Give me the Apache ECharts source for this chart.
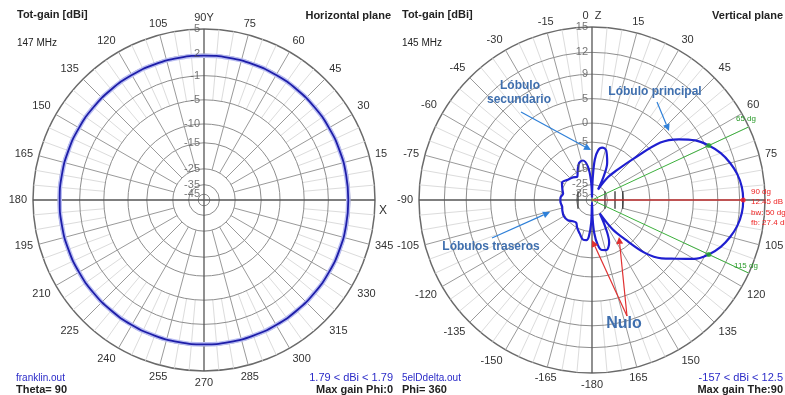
<!DOCTYPE html>
<html><head><meta charset="utf-8">
<script src="https://cdn.jsdelivr.net/npm/echarts@6/dist/echarts.min.js"></script>
<style>html,body{margin:0;padding:0;background:#fff}#c{width:785px;height:395px}</style>
</head><body><div id="c"></div>
<script>
// ---------- DATA ----------
// Horizontal plane (left), angle counter-clockwise from X axis, gain in dBi
const hAngles = [0,10,20,30,40,50,60,70,80,90,100,110,120,130,140,150,160,170,180,190,200,210,220,230,240,250,260,270,280,290,300,310,320,330,340,350,360];
const hGain   = [1.79,1.79,1.79,1.79,1.79,1.79,1.79,1.79,1.79,1.79,1.79,1.79,1.79,1.79,1.79,1.79,1.79,1.79,1.79,1.79,1.79,1.79,1.79,1.79,1.79,1.79,1.79,1.79,1.79,1.79,1.79,1.79,1.79,1.79,1.79,1.79,1.79];
const hOuter = 5;
const hRings = [2,-1,-5,-10,-15,-25,-35,-45];

// Vertical plane (right), angle clockwise from Z axis (0..360, 270 = -90), gain in dBi
const vAngles = [0,2,4,7,11,16,22,26,30,35,40,45,50,55,60,65,70,75,80,85,90,95,100,105,110,115,120,125,130,135,140,145,150,154,158,164,169,173,176,178,180,182,185,188,193,200,208,215,222,230,240,250,258,265,270,275,282,290,300,310,320,328,335,341,347,353,357,360];
const vGain   = [-40,-20,-11,-7.5,-6.4,-7,-11,-17,-28,-17,-11.5,-5,2.7,5.8,8.0,9.45,10.6,11.4,12.0,12.35,12.45,12.35,12.0,11.4,10.6,9.45,7.8,5.2,3.0,-0.5,-7,-13,-25,-15,-9,-6.8,-7.2,-9.5,-14,-22,-40,-20,-12.5,-11,-11,-13,-15,-17,-16.5,-15,-14.5,-15,-15.5,-15,-14.95,-15,-16,-15,-13.5,-15,-16,-17,-14,-11.5,-11,-14,-22,-40];
const vOuter = 15;
const vRings = [12,9,5,0,-5,-15,-25,-35];
const vMaxAngle = 90, vMaxGain = 12.45;
const vBwAngles = [65,115], vBwGain = 9.45;
const vBackAngle = 270;
// antenna elements sketch (offset along boom, relative units of the plot radius)
const vElements = [-0.081, 0.075, 0.133, 0.178];

// ---------- SCALE (log-like radial scale, 0..1) ----------
function rad(db, outer){ const e = Math.exp(-(outer-db)/20); return Math.max(0,(e-0.05)/0.95); }

const chart = echarts.init(document.getElementById('c'));
const FONT = '"Liberation Sans", Arial, sans-serif';

function ringSeries(pi, rings, outer){
  return {type:'custom', coordinateSystem:'polar', polarIndex:pi, silent:true, z:1,
    data: rings.map(v=>[rad(v,outer),0]),
    renderItem(params, api){
      const c = api.coord([0,0]); const p = api.coord([api.value(0),0]);
      return {type:'circle', shape:{cx:c[0],cy:c[1],r:Math.hypot(p[0]-c[0],p[1]-c[1])},
        style:{fill:null, stroke:'#8e8e8e', lineWidth:1}};
    }};
}
function spokeSeries(pi, list, color, width, z){
  return {type:'custom', coordinateSystem:'polar', polarIndex:pi, silent:true, z:z,
    data: list,
    renderItem(params, api){
      const a = api.value(1);
      const p0 = api.coord([api.value(0),a]); const p1 = api.coord([api.value(2),a]);
      return {type:'line', shape:{x1:p0[0],y1:p0[1],x2:p1[0],y2:p1[1]},
        style:{stroke:color, lineWidth:width}};
    }};
}
function spokes(outer){
  const minor=[], major=[], cross=[];
  for(let a=0;a<360;a+=5){
    if(a%90===0) cross.push([0,a,1]);
    else if(a%15===0) major.push([rad(outer-30,outer),a,1]);
    else minor.push([rad(outer-10,outer),a,1]);
  }
  return {minor, major, cross};
}
function ringLabels(pi, rings, outer, ang){
  return {type:'scatter', coordinateSystem:'polar', polarIndex:pi, silent:true, z:6,
    symbolSize:0,
    data:[[1,ang,outer]].concat(rings.map(v=>[rad(v,outer),ang,v])),
    label:{show:true, position:'left', distance:4, formatter:p=>String(p.value[2]),
      color:'#555', fontSize:11, fontFamily:FONT}};
}
const hs = spokes(hOuter), vs = spokes(vOuter);

const angleCommon = {type:'value', min:0, max:360, interval:15,
  axisLine:{lineStyle:{color:'#6a6a6a', width:1.5}}, axisTick:{show:false},
  splitLine:{show:false}};

function arrow(x1,y1,x2,y2,color,w){
  const ang = Math.atan2(y2-y1,x2-x1), L=7, W=3.5;
  const bx = x2 - L*Math.cos(ang), by = y2 - L*Math.sin(ang);
  const nx = -Math.sin(ang), ny = Math.cos(ang);
  return [
    {type:'line', shape:{x1,y1,x2:bx,y2:by}, style:{stroke:color, lineWidth:w}, z:20},
    {type:'polygon', shape:{points:[[x2,y2],[bx+nx*W,by+ny*W],[bx-nx*W,by-ny*W]]}, style:{fill:color}, z:20}
  ];
}
function txt(x,y,text,opt){
  return Object.assign({type:'text', x, y, z:20, style:Object.assign({text, font:'11px '+FONT, fill:'#222', textAlign:'left', textVerticalAlign:'middle'}, opt||{})});
}
const blueNote = '#3f6fae';
const bw = vBwAngles[1]-vBwAngles[0];
const fb = (vMaxGain - vGain[vAngles.indexOf(vBackAngle)]).toFixed(1);

const graphic = [
  txt(17,15,'Tot-gain [dBi]',{font:'bold 11px '+FONT}),
  txt(17,43,'147 MHz',{font:'10px '+FONT}),
  txt(391,16,'Horizontal plane',{font:'bold 11px '+FONT, textAlign:'right'}),
  txt(402,15,'Tot-gain [dBi]',{font:'bold 11px '+FONT}),
  txt(402,43,'145 MHz',{font:'10px '+FONT}),
  txt(783,16,'Vertical plane',{font:'bold 11px '+FONT, textAlign:'right'}),
  txt(16,378,'franklin.out',{font:'10px '+FONT, fill:'#2b2bc8'}),
  txt(16,390,'Theta= 90',{font:'bold 11px '+FONT}),
  txt(393,378,'1.79 < dBi < 1.79',{font:'11px '+FONT, fill:'#2b2bc8', textAlign:'right'}),
  txt(393,390,'Max gain Phi:0',{font:'bold 11px '+FONT, textAlign:'right'}),
  txt(402,378,'5elDdelta.out',{font:'10px '+FONT, fill:'#2b2bc8'}),
  txt(402,390,'Phi= 360',{font:'bold 11px '+FONT}),
  txt(783,378,'-157 < dBi < 12.5',{font:'11px '+FONT, fill:'#2b2bc8', textAlign:'right'}),
  txt(783,390,'Max gain The:90',{font:'bold 11px '+FONT, textAlign:'right'}),
  txt(383,211,'X',{font:'12px '+FONT, fill:'#333', textAlign:'center'}),
  // red info block
  txt(751,192,vMaxAngle+' dg',{font:'8px '+FONT, fill:'#ee2222'}),
  txt(751,202,vMaxGain+' dB',{font:'8px '+FONT, fill:'#ee2222'}),
  txt(751,213,'bw: '+bw+' dg',{font:'8px '+FONT, fill:'#ee2222'}),
  txt(751,223,'fb: '+fb+' dB',{font:'8px '+FONT, fill:'#ee2222'}),
  txt(746,119,vBwAngles[0]+' dg',{font:'8px '+FONT, fill:'#2a9a2a', textAlign:'center'}),
  txt(746,266,vBwAngles[1]+' dg',{font:'8px '+FONT, fill:'#2a9a2a', textAlign:'center'}),
  // notes
  txt(520,86,'Lóbulo',{font:'bold 12px '+FONT, fill:blueNote, textAlign:'center'}),
  txt(519,100,'secundario',{font:'bold 12px '+FONT, fill:blueNote, textAlign:'center'}),
  txt(655,92,'Lóbulo principal',{font:'bold 12px '+FONT, fill:blueNote, textAlign:'center'}),
  txt(491,247,'Lóbulos traseros',{font:'bold 12px '+FONT, fill:blueNote, textAlign:'center'}),
  txt(624,324,'Nulo',{font:'bold 16px '+FONT, fill:blueNote, textAlign:'center'}),
  ...arrow(521,112,591,150,'#2f80d8',1.2),
  ...arrow(657,102,669,131,'#2f80d8',1.2),
  ...arrow(492,238,550,212,'#2f80d8',1.2),
  ...arrow(627,316,592,240,'#e03030',1.2),
  ...arrow(627,316,619,237,'#e03030',1.2)
];

const option = {
  animation:false,
  backgroundColor:'#fff',
  polar:[{center:[204,200], radius:171},{center:[592,200], radius:173}],
  angleAxis:[
    Object.assign({polarIndex:0, startAngle:0, clockwise:false,
      axisLabel:{margin:6, color:'#333', fontSize:11, fontFamily:FONT,
        formatter:v=> v===360||v===0 ? '' : (v===90 ? '90Y' : String(v))}}, angleCommon),
    Object.assign({polarIndex:1, startAngle:90, clockwise:true,
      axisLabel:{margin:6, color:'#333', fontSize:11, fontFamily:FONT,
        formatter:v=> v===360||v===90 ? '' : (v===0 ? '0  Z' : (v>=180 ? String(v-360) : String(v)))}}, angleCommon)
  ],
  radiusAxis:[0,1].map(i=>({polarIndex:i, type:'value', min:0, max:1,
    axisLine:{show:false}, axisTick:{show:false}, axisLabel:{show:false}, splitLine:{show:false}})),
  series:[
    spokeSeries(0, hs.minor, '#dcdcdc', 1, 1),
    spokeSeries(0, hs.major, '#9a9a9a', 1, 2),
    ringSeries(0, hRings, hOuter),
    spokeSeries(0, hs.cross, '#555', 1.3, 3),
    spokeSeries(1, vs.minor, '#dcdcdc', 1, 1),
    spokeSeries(1, vs.major, '#9a9a9a', 1, 2),
    ringSeries(1, vRings, vOuter),
    spokeSeries(1, vs.cross, '#555', 1.3, 3),
    ringLabels(0, hRings, hOuter, 90),
    ringLabels(1, vRings, vOuter, 0),
    // antenna elements (short bars across the boom)
    {type:'custom', coordinateSystem:'polar', polarIndex:1, silent:true, z:4,
      data: vElements.map(x=>[Math.abs(x), x<0?270:90]),
      renderItem(params, api){
        const p = api.coord([api.value(0), api.value(1)]);
        const c = api.coord([0,0]); const q = api.coord([0.05,0]);
        const h = Math.hypot(q[0]-c[0], q[1]-c[1]);
        return {type:'line', shape:{x1:p[0],y1:p[1]-h,x2:p[0],y2:p[1]+h}, style:{stroke:'#333', lineWidth:1.3}};
      }},
    // horizontal pattern
    {type:'line', coordinateSystem:'polar', polarIndex:0, silent:true, z:4, showSymbol:false, smooth:true,
      data:hAngles.map((a,i)=>[rad(hGain[i],hOuter),a]), lineStyle:{color:'#b9bdf2', width:4.5}},
    {type:'line', coordinateSystem:'polar', polarIndex:0, silent:true, z:5, showSymbol:false, smooth:true,
      data:hAngles.map((a,i)=>[rad(hGain[i],hOuter),a]), lineStyle:{color:'#1e1ea8', width:1.8}},
    // beamwidth lines & max line
    {type:'line', coordinateSystem:'polar', polarIndex:1, silent:true, z:4, showSymbol:false,
      data:[[0,vBwAngles[0]],[1,vBwAngles[0]],'-',[0,vBwAngles[1]],[1,vBwAngles[1]]], connectNulls:false,
      lineStyle:{color:'#3cb03c', width:1}},
    {type:'line', coordinateSystem:'polar', polarIndex:1, silent:true, z:4, showSymbol:false,
      data:[[0,vMaxAngle],[rad(vMaxGain,vOuter),vMaxAngle]], lineStyle:{color:'#ff2a2a', width:1}},
    // vertical pattern
    {type:'line', coordinateSystem:'polar', polarIndex:1, silent:true, z:5, showSymbol:false, smooth:0.35,
      data:vAngles.map((a,i)=>[rad(vGain[i],vOuter),a]), lineStyle:{color:'#1f1fd0', width:2.2}},
    {type:'scatter', coordinateSystem:'polar', polarIndex:1, silent:true, z:6, symbolSize:5,
      data:vBwAngles.map(a=>[rad(vBwGain,vOuter),a]), itemStyle:{color:'#22aa22'}},
    {type:'scatter', coordinateSystem:'polar', polarIndex:1, silent:true, z:6, symbolSize:5,
      data:[[rad(vMaxGain,vOuter),vMaxAngle]], itemStyle:{color:'#ff2222'}}
  ],
  graphic: graphic
};
chart.setOption(option);
</script></body></html>
